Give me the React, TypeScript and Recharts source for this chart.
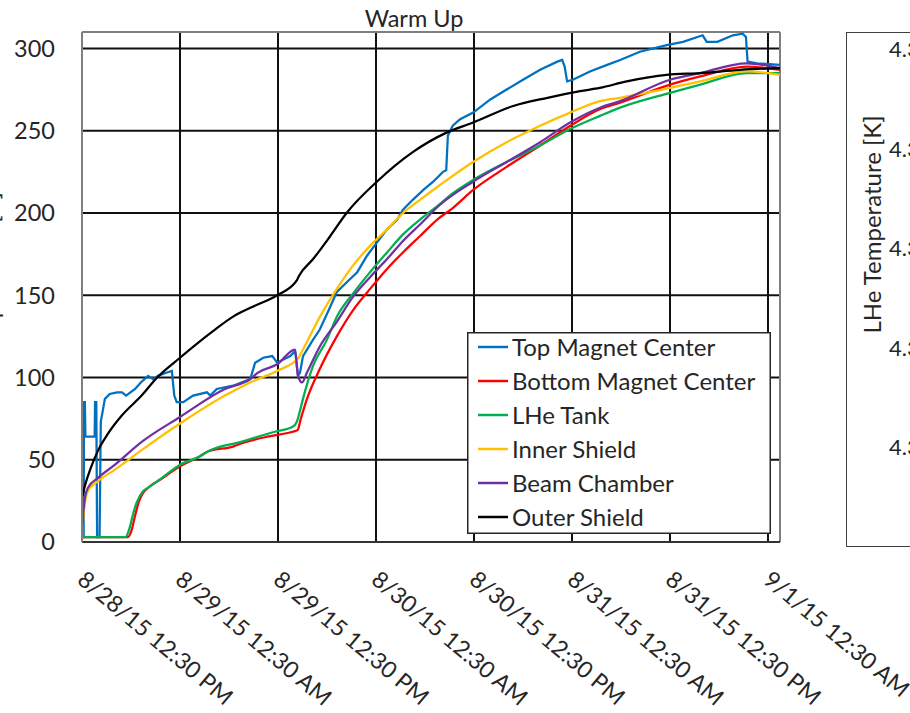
import React from 'react';
import { LineChart, Line, XAxis, YAxis, CartesianGrid, Legend, ReferenceLine, Label } from 'recharts';

// Time axis: hours elapsed since 8/28/15 12:30 PM
const hourTicks = [0, 12, 24, 36, 48, 60, 72, 84];
const hourTickLabels = [
  '8/28/15 12:30 PM',
  '8/29/15 12:30 AM',
  '8/29/15 12:30 PM',
  '8/30/15 12:30 AM',
  '8/30/15 12:30 PM',
  '8/31/15 12:30 AM',
  '8/31/15 12:30 PM',
  '9/1/15 12:30 AM',
];
const hourMax = 85.47;
const tempTicks = [0, 50, 100, 150, 200, 250, 300];
const tempMax = 310;

// [hours, kelvin]
const topMagnetCenter: [number, number][] = [
  [0, 3], [0.2, 3], [0.25, 85], [0.35, 85], [0.42, 64], [1.55, 64], [1.6, 85], [1.75, 85],
  [1.85, 3], [2.15, 3], [2.3, 73], [2.55, 80], [2.8, 87], [3.4, 90], [4.3, 91], [4.9, 91],
  [5.4, 89], [6.5, 93], [7.2, 97], [8.1, 101], [8.7, 99], [9.3, 101], [10.4, 103], [11.0, 104],
  [11.3, 89], [11.6, 85], [12.4, 85], [13.6, 89], [15.3, 91], [15.7, 89], [16.5, 93], [18.5, 95],
  [20.6, 99], [21.2, 109], [22.2, 112], [23.3, 113], [23.9, 109], [25.5, 113], [26.1, 116],
  [26.45, 101], [26.7, 103], [27.06, 113], [28.3, 123], [29.1, 129], [30.4, 143], [31.2, 152],
  [32.45, 158], [33.7, 164], [34.9, 174], [36.1, 182], [37.35, 190], [38.6, 196], [39.3, 202],
  [40.5, 208], [41.8, 214], [43.0, 219], [44.2, 225], [44.6, 226], [44.8, 247], [45.4, 253],
  [46.3, 257], [47.9, 261], [50.0, 269], [52.0, 275], [54.0, 281], [56.1, 287], [58.2, 292],
  [58.8, 293], [59.1, 289], [59.4, 280], [60.1, 281], [62.2, 286], [64.3, 290], [65.9, 293],
  [68.3, 298], [71.6, 302], [73.6, 304], [76.0, 308], [76.5, 304], [77.8, 304], [79.7, 308],
  [80.9, 309], [81.3, 307], [81.5, 292], [82.65, 291], [85.47, 290],
];

const bottomMagnetCenter: [number, number][] = [
  [0, 3], [5.6, 3], [6.0, 6], [6.5, 16], [7.0, 25], [7.5, 30], [8.1, 33], [9.6, 38], [12, 46],
  [14.4, 52], [15.4, 55], [18.5, 58], [19.6, 60], [22.7, 64], [25.8, 67], [26.4, 68], [26.8, 75],
  [27.55, 87], [29.1, 105], [31.2, 125], [33.2, 141], [35.3, 154], [37.35, 166], [39.3, 176],
  [41.4, 186], [43.5, 196], [45.4, 203], [47.9, 214], [52, 228], [56.1, 241], [59.8, 253],
  [63.4, 263], [65.9, 267], [72, 278], [75.7, 283], [81.4, 289], [85.47, 287],
];

const lheTank: [number, number][] = [
  [0, 3], [5.3, 3], [5.8, 8], [6.2, 16], [6.7, 24], [7.5, 31], [8.1, 33], [9.8, 39], [12, 47],
  [14.4, 52], [15.4, 55], [19.6, 61], [23.6, 67], [25.8, 70], [26.3, 73], [26.6, 78],
  [27.06, 87], [28.29, 107], [30, 123], [31.22, 137], [33.18, 151], [35.27, 164], [37.35, 176],
  [39.31, 187], [41.39, 196], [43.47, 204], [45.43, 212], [47.88, 220], [52, 231], [56.1, 241],
  [59.76, 251], [63.43, 259], [65.88, 264], [72, 273], [75.7, 278], [81.4, 285], [85.47, 285],
];

const innerShield: [number, number][] = [
  [0, 3], [0.12, 12], [0.37, 24], [0.73, 31], [1.96, 37], [4.04, 44], [7.35, 56], [12, 72],
  [17.5, 89], [20.6, 97], [23.9, 104], [26.1, 110], [26.5, 112], [27.06, 117], [29.14, 137],
  [31.22, 154], [33.18, 168], [35.27, 180], [37.35, 190], [39.31, 200], [41.39, 208],
  [43.84, 217], [47.88, 231], [52, 243], [56.1, 253], [59.76, 261], [63.43, 268], [65.88, 270],
  [72, 276], [75.7, 280], [81.4, 286], [85.47, 284],
];

const beamChamber: [number, number][] = [
  [0, 3], [0.12, 15], [0.37, 27], [0.73, 33], [1.96, 39], [4.04, 47], [7.35, 61], [12, 76],
  [17.5, 93], [20.6, 99], [21.55, 103], [23.9, 108], [26.08, 117], [26.45, 101], [26.94, 97],
  [27.55, 103], [29.14, 119], [31.22, 134], [33.18, 149], [35.27, 161], [37.35, 172],
  [39.31, 183], [41.39, 193], [43.84, 205], [47.88, 219], [52, 231], [56.1, 243], [59.76, 255],
  [63.43, 264], [65.88, 268], [72, 281], [75.7, 285], [81.4, 291], [85.47, 288],
];

const outerShield: [number, number][] = [
  [0.05, 28], [0.4, 35], [1.0, 44], [2.0, 56], [3.2, 66], [4.9, 77], [7.3, 89], [9.2, 100],
  [12, 112], [16, 128], [18.5, 137], [20.9, 143], [23.9, 150], [26.3, 159], [26.6, 162],
  [28.3, 172], [30.4, 186], [32.4, 200], [36.1, 219], [40.5, 237], [44.7, 249], [47.9, 255],
  [52.8, 265], [57, 270], [61, 274], [63.4, 276], [66.7, 280], [71.6, 284], [75.7, 285],
  [80.6, 287], [85.47, 288],
];

// LHe temperature panel axis
const lheTempTicks = [4.3, 4.31, 4.32, 4.33, 4.34];
const lheTempDomain: [number, number] = [4.3, 4.34];

const series = [
  { name: 'Top Magnet Center', color: '#0070C0', points: topMagnetCenter, curve: 'linear' },
  { name: 'Bottom Magnet Center', color: '#FF0000', points: bottomMagnetCenter, curve: 'monotone' },
  { name: 'LHe Tank', color: '#00B050', points: lheTank, curve: 'monotone' },
  { name: 'Inner Shield', color: '#FFC000', points: innerShield, curve: 'monotone' },
  { name: 'Beam Chamber', color: '#7030A0', points: beamChamber, curve: 'monotone' },
  { name: 'Outer Shield', color: '#000000', points: outerShield, curve: 'monotone' },
];

const FONT = 'Lato, "Open Sans", sans-serif';
const TEXT = '#262626';

// Date labels slanted down to the right
const HourTick = (props: any) => {
  const { x, y, payload } = props;
  const i = hourTicks.indexOf(payload.value);
  const tx = x - 6;
  const ty = y + 40;
  return (
    <text x={tx} y={ty} transform={`rotate(40, ${tx}, ${ty})`} fontSize={23} fontFamily={FONT} fill={TEXT}>
      {hourTickLabels[i]}
    </text>
  );
};

// Legend keeps the series order (top to bottom as the series are listed)
const LegendBox = () => (
  <svg width={304} height={202} style={{ display: 'block' }}>
    <rect x={0.75} y={0.75} width={302.5} height={200.5} fill="#ffffff" stroke="#262626" strokeWidth={1.5} />
    {series.map((s, i) => (
      <g key={s.name}>
        <line x1={11} x2={41} y1={15 + 34 * i} y2={15 + 34 * i} stroke={s.color} strokeWidth={2.5} />
        <text x={45} y={23.5 + 34 * i} fontSize={24} fontFamily={FONT} fill={TEXT}>
          {s.name}
        </text>
      </g>
    ))}
  </svg>
);

const LheTick = (props: any) => {
  const { x, y, payload } = props;
  return (
    <text x={x} y={y} dy="0.355em" textAnchor="start" fontSize={22} fontFamily={FONT} fill={TEXT}>
      {Number(payload.value).toFixed(2)}
    </text>
  );
};

export default function App() {
  return (
    <div
      style={{
        position: 'absolute',
        left: 0,
        top: 0,
        width: 910,
        height: 713,
        overflow: 'hidden',
        background: '#ffffff',
        fontFamily: FONT,
      }}
    >
      <div
        style={{
          position: 'absolute',
          left: 314,
          top: 4,
          width: 200,
          textAlign: 'center',
          fontSize: 23.5,
          lineHeight: '28px',
          color: TEXT,
          zIndex: 2,
        }}
      >
        Warm Up
      </div>

      <div style={{ position: 'absolute', left: 0, top: 0 }}>
        <LineChart width={910} height={713} margin={{ top: 32, right: 130, bottom: 21, left: 0 }}>
          <CartesianGrid stroke="#111111" strokeWidth={2} />
          <XAxis
            dataKey="h"
            type="number"
            domain={[0, hourMax]}
            ticks={hourTicks}
            interval={0}
            height={150}
            tickLine={false}
            tickSize={0}
            tickMargin={0}
            tick={<HourTick />}
            axisLine={{ stroke: '#333333', strokeWidth: 2 }}
            allowDataOverflow
          />
          <YAxis
            type="number"
            domain={[0, tempMax]}
            ticks={tempTicks}
            interval={0}
            width={82}
            tickLine={false}
            tickSize={0}
            tickMargin={27}
            tick={{ fontSize: 23.5, fill: TEXT, fontFamily: FONT }}
            axisLine={{ stroke: '#7f7f7f', strokeWidth: 2 }}
            allowDataOverflow
          >
            <Label
              content={() => (
                <text
                  x={-1.5}
                  y={277}
                  transform="rotate(-90, -1.5, 277)"
                  textAnchor="middle"
                  fontSize={24}
                  fontFamily={FONT}
                  fill={TEXT}
                >
                  Temperature [K]
                </text>
              )}
            />
          </YAxis>
          <ReferenceLine y={tempMax} stroke="#7f7f7f" strokeWidth={2} />
          <ReferenceLine x={hourMax} stroke="#7f7f7f" strokeWidth={2} />
          {series.map((s) => (
            <Line
              key={s.name}
              name={s.name}
              data={s.points.map(([h, k]) => ({ h, k }))}
              dataKey="k"
              type={s.curve as any}
              stroke={s.color}
              strokeWidth={2.25}
              dot={false}
              activeDot={false}
              isAnimationActive={false}
            />
          ))}
          <Legend
            layout="vertical"
            align="center"
            verticalAlign="middle"
            content={<LegendBox />}
            wrapperStyle={{ left: 467, top: 332, width: 304, height: 202 }}
          />
        </LineChart>
      </div>

      <div
        style={{
          position: 'absolute',
          left: 846,
          top: 32,
          width: 300,
          height: 515,
          border: '1.5px solid #404040',
          boxSizing: 'border-box',
          background: '#ffffff',
        }}
      >
        <LineChart
          width={297}
          height={512}
          margin={{ top: 16.5, right: 0, bottom: 97.5, left: 0 }}
          data={hourTicks.map((h) => ({ h }))}
        >
          <XAxis type="number" dataKey="h" domain={[0, hourMax]} hide />
          <YAxis
            type="number"
            domain={lheTempDomain}
            ticks={lheTempTicks}
            interval={0}
            width={42}
            tickLine={false}
            tickSize={0}
            tickMargin={0}
            axisLine={false}
            tick={<LheTick />}
            allowDataOverflow
          >
            <Label
              content={() => (
                <text
                  x={34}
                  y={191.5}
                  transform="rotate(-90, 34, 191.5)"
                  textAnchor="middle"
                  fontSize={24}
                  fontFamily={FONT}
                  fill={TEXT}
                >
                  LHe Temperature [K]
                </text>
              )}
            />
          </YAxis>
        </LineChart>
      </div>
    </div>
  );
}
